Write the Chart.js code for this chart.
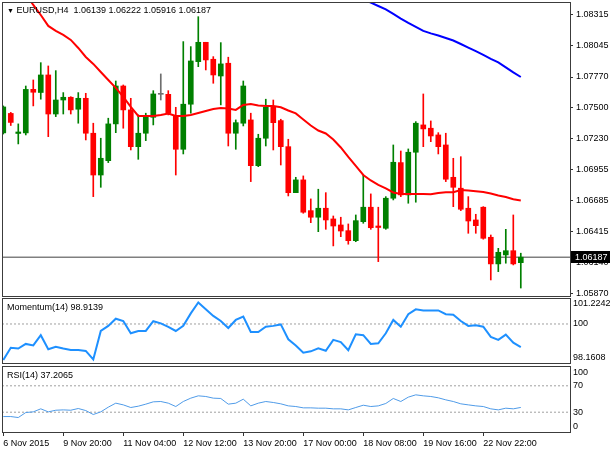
<!DOCTYPE html>
<html>
<head>
<meta charset="utf-8">
<script src="https://cdn.jsdelivr.net/npm/chart.js"></script>
<style>
    body { margin: 0; background: #fff; }
    #wrap { position: relative; width: 610px; height: 450px; overflow: hidden; background: #fff;
            font-family: "Liberation Sans", Arial, sans-serif; font-size: 9px; color: #000; }
    #wrap canvas { position: absolute; left: 0; }
    .lbl { position: absolute; left: 7px; white-space: pre; line-height: 10px; }
    .tri { font-size: 7px; }
</style>
</head>
<body>
<div id="wrap">
    <canvas id="priceChart" width="610" height="298" style="top:0"></canvas>
    <canvas id="momChart" width="610" height="67" style="top:297px"></canvas>
    <canvas id="rsiChart" width="610" height="85" style="top:365px"></canvas>
    <div class="lbl" style="top:5px"><span class="tri">&#9660;</span> <span id="priceTitle"></span></div>
    <div class="lbl" style="top:302px" id="momTitle"></div>
    <div class="lbl" style="top:370px" id="rsiTitle"></div>
</div>
<script>
const symbolTitle = 'EURUSD,H4';

// 4H candles, 6 Nov 16:00 .. 23 Nov 16:00
const opens = [
    1.07279, 1.07450, 1.07274, 1.07279, 1.07662, 1.07634, 1.07788, 1.07445, 1.07568, 1.07592,
    1.07487, 1.07583, 1.07276, 1.06909, 1.07035, 1.07358, 1.07691, 1.07481, 1.07158, 1.07276,
    1.07416, 1.07618, 1.07618, 1.07428, 1.07135, 1.07531, 1.07905, 1.08075, 1.07926, 1.07779,
    1.07891, 1.07276, 1.07364, 1.07393, 1.06991, 1.07232, 1.07504, 1.07387, 1.07158, 1.06754,
    1.06866, 1.06596, 1.06538, 1.06617, 1.06523, 1.06470, 1.06420, 1.06332, 1.06499, 1.06626,
    1.06461, 1.06441, 1.06705, 1.07018, 1.06734, 1.07109, 1.07349, 1.07320, 1.07261, 1.07173,
    1.06889, 1.06793, 1.06617, 1.06514, 1.06626, 1.06362, 1.06128, 1.06207, 1.06244, 1.06139
];
const highs = [
    1.07516, 1.07459, 1.07358, 1.07691, 1.07744, 1.07896, 1.07867, 1.07826, 1.07633, 1.07597,
    1.07633, 1.07627, 1.07364, 1.07232, 1.07408, 1.07735, 1.07700, 1.07583, 1.07437, 1.07452,
    1.07650, 1.07797, 1.07650, 1.07504, 1.08081, 1.08037, 1.08300, 1.08075, 1.07949, 1.08072,
    1.07944, 1.07393, 1.07735, 1.07452, 1.07267, 1.07575, 1.07568, 1.07399, 1.07223, 1.06889,
    1.06901, 1.06699, 1.06784, 1.06754, 1.06549, 1.06538, 1.06479, 1.06558, 1.06909, 1.06743,
    1.06626, 1.06719, 1.07173, 1.07120, 1.07138, 1.07378, 1.07621, 1.07384, 1.07281, 1.07276,
    1.07056, 1.07070, 1.06719, 1.06564, 1.06631, 1.06382, 1.06265, 1.06432, 1.06558, 1.06222
];
const lows = [
    1.07269, 1.07344, 1.07182, 1.07261, 1.07516, 1.07575, 1.07246, 1.07422, 1.07445, 1.07445,
    1.07364, 1.07217, 1.06719, 1.06801, 1.07018, 1.07281, 1.07320, 1.07129, 1.07047, 1.07211,
    1.07349, 1.07568, 1.07437, 1.06909, 1.07094, 1.07452, 1.07861, 1.07832, 1.07715, 1.07525,
    1.07164, 1.07135, 1.07340, 1.06851, 1.06982, 1.07164, 1.07129, 1.06997, 1.06725, 1.06754,
    1.06573, 1.06490, 1.06411, 1.06432, 1.06286, 1.06367, 1.06301, 1.06323, 1.06485, 1.06432,
    1.06148, 1.06432, 1.06690, 1.06719, 1.06661, 1.06670, 1.07158, 1.07202, 1.07094, 1.06851,
    1.06631, 1.06596, 1.06397, 1.06397, 1.06345, 1.05987, 1.06060, 1.06134, 1.06119, 1.05916
];
const closes = [
    1.07507, 1.07371, 1.07287, 1.07661, 1.07636, 1.07788, 1.07445, 1.07568, 1.07592, 1.07481,
    1.07583, 1.07276, 1.06909, 1.07056, 1.07358, 1.07691, 1.07481, 1.07158, 1.07276, 1.07416,
    1.07621, 1.07618, 1.07452, 1.07135, 1.07531, 1.07911, 1.08075, 1.07920, 1.07788, 1.07885,
    1.07276, 1.07369, 1.07691, 1.06991, 1.07232, 1.07504, 1.07369, 1.07158, 1.06754, 1.06866,
    1.06582, 1.06538, 1.06617, 1.06514, 1.06461, 1.06417, 1.06332, 1.06508, 1.06626, 1.06446,
    1.06448, 1.06705, 1.07021, 1.06734, 1.07109, 1.07364, 1.07314, 1.07252, 1.07158, 1.06872,
    1.06801, 1.06608, 1.06505, 1.06464, 1.06353, 1.06128, 1.06230, 1.06244, 1.06128, 1.06187
];

// red moving average, one value per bar
const fastMa = [
    1.08772, 1.08684, 1.08588, 1.08500, 1.08403, 1.08315, 1.08219, 1.08175, 1.08140, 1.08096,
    1.08025, 1.07946, 1.07885, 1.07814, 1.07744, 1.07674, 1.07595, 1.07507, 1.07428, 1.07428,
    1.07428, 1.07437, 1.07450, 1.07428, 1.07428, 1.07437, 1.07454, 1.07472, 1.07489, 1.07498,
    1.07494, 1.07481, 1.07525, 1.07533, 1.07520, 1.07516, 1.07516, 1.07504, 1.07476, 1.07450,
    1.07397, 1.07344, 1.07300, 1.07274, 1.07221, 1.07151, 1.07068, 1.06989, 1.06909, 1.06861,
    1.06822, 1.06791, 1.06756, 1.06743, 1.06743, 1.06743, 1.06743, 1.06740, 1.06751, 1.06758,
    1.06758, 1.06778, 1.06773, 1.06766, 1.06760, 1.06747, 1.06729, 1.06716, 1.06696, 1.06685
];
// blue moving average, only the part that comes into view
const slowMaStart = 46;
const slowMa = [
    1.08513, 1.08482, 1.08451, 1.08423, 1.08394, 1.08364, 1.08324, 1.08283, 1.08245, 1.08210,
    1.08175, 1.08153, 1.08135, 1.08113, 1.08091, 1.08060, 1.08028, 1.07997, 1.07964, 1.07930,
    1.07898, 1.07854, 1.07810, 1.07770
];

const momentum = [
    98.30, 98.88, 98.84, 99.06, 98.99, 99.47, 98.81, 98.93, 98.84, 98.77,
    98.77, 98.73, 98.33, 99.67, 99.91, 100.25, 100.14, 99.56, 99.67, 99.67,
    100.13, 100.03, 99.86, 99.67, 99.91, 100.50, 101.01, 100.69, 100.38, 100.14,
    99.81, 100.19, 100.35, 99.62, 99.62, 99.87, 99.91, 99.98, 99.28, 98.99,
    98.65, 98.71, 98.85, 98.74, 99.25, 99.15, 98.76, 99.51, 99.47, 99.06,
    99.09, 99.56, 100.19, 99.87, 100.46, 100.69, 100.64, 100.64, 100.64, 100.46,
    100.44, 100.14, 99.91, 99.94, 99.87, 99.39, 99.25, 99.50, 99.12, 98.9139
];
const rsi = [
    23.4, 23.4, 21.9, 29.5, 30.5, 35.1, 30.5, 33.0, 33.5, 33.0,
    35.6, 32.5, 26.5, 30.5, 37.6, 43.7, 41.1, 37.1, 39.1, 42.2,
    45.7, 46.2, 43.7, 38.6, 46.2, 51.3, 54.8, 53.8, 51.3, 50.8,
    42.2, 43.7, 49.7, 39.6, 43.7, 46.2, 44.7, 42.7, 39.6, 38.6,
    36.6, 36.6, 36.1, 36.1, 35.1, 35.1, 33.5, 37.1, 40.6, 38.6,
    39.6, 43.2, 50.8, 46.2, 52.8, 56.3, 54.8, 53.8, 51.8, 48.7,
    46.2, 42.7, 41.1, 39.6, 38.6, 35.1, 33.5, 36.1, 35.1, 37.2065
];

// axis ticks
const timeTickBars = [0, 8, 16, 24, 32, 40, 48, 56, 64];
const timeLabels = ['6 Nov 2015', '9 Nov 20:00', '11 Nov 04:00', '12 Nov 12:00', '13 Nov 20:00',
    '17 Nov 00:00', '18 Nov 08:00', '19 Nov 16:00', '22 Nov 22:00'];
const priceTicks = [1.05870, 1.06140, 1.06415, 1.06685, 1.06955, 1.07230, 1.07500, 1.07770, 1.08045, 1.08315];
const momLevels = [100];
const momTickValues = [100.942, 100, 98.396];
const momTickLabels = ['101.2242', '100', '98.1608'];
const rsiLevels = [70, 30];
const rsiTickValues = [89.8, 70, 30, 8];
const rsiTickLabels = ['100', '70', '30', '0'];

// visible window
const xMin = -0.17, xMax = 75.56;
const priceMin = 1.05846, priceMax = 1.08429;

Chart.defaults.font.family = '"Liberation Sans", Arial, sans-serif';
Chart.defaults.font.size = 9;
Chart.defaults.color = '#000';

const bars = closes.map((c, i) => i);
const lastBar = bars.length - 1;
const candleColors = bars.map(i =>
    closes[i] > opens[i] ? '#008000' : (closes[i] < opens[i] ? '#ff0000' : '#6e6e6e'));

document.getElementById('priceTitle').textContent = symbolTitle + '  ' +
    [opens[lastBar], highs[lastBar], lows[lastBar], closes[lastBar]].map(v => v.toFixed(5)).join(' ');
document.getElementById('momTitle').textContent = 'Momentum(14) ' + momentum[lastBar].toFixed(4);
document.getElementById('rsiTitle').textContent = 'RSI(14) ' + rsi[lastBar].toFixed(4);

const framePlugin = {
    id: 'frame',
    afterDraw(chart) {
        const { ctx, chartArea: a } = chart;
        ctx.save();
        ctx.strokeStyle = '#3c3c3c';
        ctx.lineWidth = 1;
        ctx.strokeRect(Math.round(a.left) + 0.5, Math.round(a.top) + 0.5,
            Math.round(a.right - a.left), Math.round(a.bottom - a.top));
        ctx.restore();
    }
};

// black box with the last price on the right axis
const lastPricePlugin = {
    id: 'lastPrice',
    afterDraw(chart) {
        const { ctx, chartArea: a } = chart;
        const y = Math.round(chart.scales.y.getPixelForValue(closes[lastBar]));
        ctx.save();
        ctx.fillStyle = '#000';
        ctx.fillRect(a.right + 1, y - 6, 39, 12);
        ctx.fillStyle = '#fff';
        ctx.font = '9px "Liberation Sans", Arial, sans-serif';
        ctx.textBaseline = 'middle';
        ctx.fillText(closes[lastBar].toFixed(5), a.right + 5, y + 0.5);
        ctx.restore();
    }
};

function xAxis(show) {
    return {
        type: 'linear', min: xMin, max: xMax, offset: false, display: show,
        border: { display: false },
        grid: { offset: false, drawOnChartArea: false, drawTicks: true, tickLength: 4, color: '#333' },
        ticks: {
            align: 'start', padding: 2, maxRotation: 0, minRotation: 0, autoSkip: false,
            callback: (v, i) => timeLabels[i]
        },
        afterBuildTicks: s => { s.ticks = timeTickBars.map(v => ({ value: v })); },
        afterFit: s => { if (show) s.height = 18; s.paddingLeft = 0; s.paddingRight = 0; }
    };
}

// tickMarks: main panel shows small tick marks, indicator panels only labels
function yAxis(min, max, values, labels, tickMarks) {
    return {
        position: 'right', min, max, beginAtZero: false,
        border: { display: false },
        grid: { drawOnChartArea: false, drawTicks: tickMarks, tickLength: 3, color: '#333' },
        ticks: { padding: 3, autoSkip: false, callback: (v, i) => labels[i] },
        afterBuildTicks: s => { s.ticks = values.map(v => ({ value: v })); },
        afterFit: s => { s.width = 40; s.paddingTop = 0; s.paddingBottom = 0; }
    };
}

function levelLine(level) {
    return {
        type: 'line', data: [{ x: xMin, y: level }, { x: xMax, y: level }],
        borderColor: '#a0a0a0', borderWidth: 1, borderDash: [2, 2], pointRadius: 0, order: 5
    };
}

const baseOptions = {
    responsive: false,
    animation: false,
    events: [],
    plugins: { legend: { display: false }, tooltip: { enabled: false } }
};

// Price panel
new Chart(document.getElementById('priceChart'), {
    type: 'bar',
    data: {
        datasets: [
            {
                type: 'line', data: fastMa.map((y, i) => ({ x: i, y })),
                borderColor: '#ff0000', borderWidth: 2, pointRadius: 0, clip: 0, order: 0
            },
            {
                type: 'line', data: slowMa.map((y, i) => ({ x: slowMaStart + i, y })),
                borderColor: '#0000ff', borderWidth: 2, pointRadius: 0, clip: 0, order: 0
            },
            {
                data: bars.map(i => ({ x: i, y: [opens[i], closes[i]] })),
                backgroundColor: candleColors, barThickness: 5, minBarLength: 1,
                grouped: false, borderWidth: 0, order: 1
            },
            {
                data: bars.map(i => ({ x: i, y: [lows[i], highs[i]] })),
                backgroundColor: candleColors, barThickness: 1,
                grouped: false, borderWidth: 0, order: 2
            },
            {
                type: 'line', data: [{ x: xMin, y: closes[lastBar] }, { x: xMax, y: closes[lastBar] }],
                borderColor: '#404040', borderWidth: 1, pointRadius: 0, order: 3
            }
        ]
    },
    options: {
        ...baseOptions,
        layout: { padding: { left: 2, right: 0, top: 2, bottom: 2 } },
        scales: {
            x: xAxis(false),
            y: yAxis(priceMin, priceMax, priceTicks, priceTicks.map(v => v.toFixed(5)), true)
        }
    },
    plugins: [framePlugin, lastPricePlugin]
});

// Momentum panel
new Chart(document.getElementById('momChart'), {
    type: 'line',
    data: {
        datasets: [
            {
                data: momentum.map((y, i) => ({ x: i, y })),
                borderColor: '#1e90ff', borderWidth: 2, pointRadius: 0, clip: 0, order: 0
            },
            ...momLevels.map(levelLine)
        ]
    },
    options: {
        ...baseOptions,
        layout: { padding: { left: 2, right: 0, top: 1, bottom: 1 } },
        scales: {
            x: xAxis(false),
            y: yAxis(98.1608, 101.2242, momTickValues, momTickLabels, false)
        }
    },
    plugins: [framePlugin]
});

// RSI panel
new Chart(document.getElementById('rsiChart'), {
    type: 'line',
    data: {
        datasets: [
            {
                data: rsi.map((y, i) => ({ x: i, y })),
                borderColor: '#4f9be8', borderWidth: 1, pointRadius: 0, clip: 0, order: 0
            },
            ...rsiLevels.map(levelLine)
        ]
    },
    options: {
        ...baseOptions,
        layout: { padding: { left: 2, right: 0, top: 1, bottom: 0 } },
        scales: {
            x: xAxis(true),
            y: yAxis(0, 100, rsiTickValues, rsiTickLabels, false)
        }
    },
    plugins: [framePlugin]
});
</script>
</body>
</html>
